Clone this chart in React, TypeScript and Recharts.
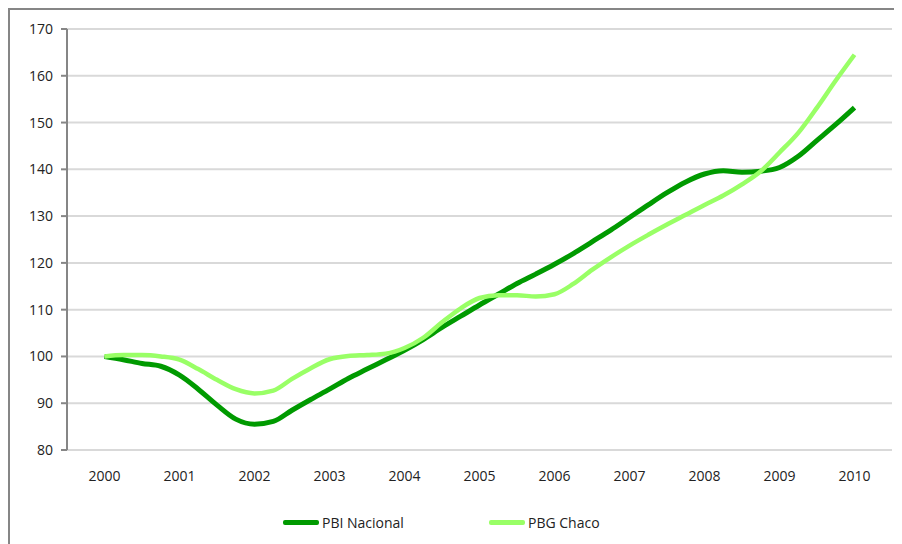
import { LineChart, Line, XAxis, YAxis, CartesianGrid, Legend } from "recharts";

// fractional years: one point per quarter, 2000 to 2010
const period = [
  2000, 2000.25, 2000.5, 2000.75, 2001, 2001.25, 2001.5, 2001.75,
  2002, 2002.25, 2002.5, 2002.75, 2003, 2003.25, 2003.5, 2003.75,
  2004, 2004.25, 2004.5, 2004.75, 2005, 2005.25, 2005.5, 2005.75,
  2006, 2006.25, 2006.5, 2006.75, 2007, 2007.25, 2007.5, 2007.75,
  2008, 2008.25, 2008.5, 2008.75, 2009, 2009.25, 2009.5, 2009.75,
  2010,
];

const pbiNacional = [
  100, 99.3, 98.5, 97.9, 96.0, 93.0, 89.6, 86.6,
  85.5, 86.1, 88.5, 90.8, 93.0, 95.3, 97.3, 99.3,
  101.3, 103.6, 106.2, 108.6, 111.0, 113.3, 115.6, 117.6,
  119.7, 122.0, 124.5, 127.0, 129.7, 132.4, 135.0, 137.3,
  139.0, 139.7, 139.4, 139.6, 140.4, 142.8, 146.2, 149.6,
  153.2,
];

const pbgChaco = [
  100, 100.3, 100.3, 100.0, 99.3, 97.3, 95.0, 93.0,
  92.1, 92.7, 95.2, 97.5, 99.4, 100.1, 100.3, 100.6,
  101.8, 104.0, 107.3, 110.3, 112.5, 113.1, 113.1, 112.8,
  113.3, 115.5, 118.5, 121.2, 123.7, 126.0, 128.2, 130.3,
  132.4, 134.4, 136.8, 139.6, 143.6, 147.8, 153.2, 159.0,
  164.5,
];

const years = [2000, 2001, 2002, 2003, 2004, 2005, 2006, 2007, 2008, 2009, 2010];
const yTicks = [80, 90, 100, 110, 120, 130, 140, 150, 160, 170];
const seriesNames = ["PBI Nacional", "PBG Chaco"];

const DARK = "#009a00";
const LIGHT = "#99ff66";
const AXIS = "#868686";
const FONT = "'Open Sans', 'Noto Sans', sans-serif";

const data = period.map((p, i) => ({ period: p, nacional: pbiNacional[i], chaco: pbgChaco[i] }));

// tick marks sit between the year labels
const markTicks = [...years.map((y) => y - 0.5), years[years.length - 1] + 0.5];

function renderLegend(props: any) {
  const items = [...(props.payload ?? [])].sort(
    (a: any, b: any) => seriesNames.indexOf(a.value) - seriesNames.indexOf(b.value)
  );
  return (
    <div style={{ display: "flex", height: 24, alignItems: "center", fontFamily: FONT, fontSize: 14, color: "#222" }}>
      {items.map((it: any, i: number) => (
        <div key={it.value} style={{ display: "flex", alignItems: "center", width: i === 0 ? 206 : "auto" }}>
          <div style={{ width: 36, height: 5, background: it.color, borderRadius: 2, marginRight: 3 }} />
          <span>{it.value}</span>
        </div>
      ))}
    </div>
  );
}

export default function App() {
  return (
    <div
      style={{
        width: 894,
        height: 536,
        boxSizing: "border-box",
        borderTop: `2px solid ${AXIS}`,
        borderLeft: `2px solid ${AXIS}`,
        fontFamily: FONT,
        overflow: "hidden",
      }}
    >
      <LineChart width={892} height={534} data={data} margin={{ top: 19, right: 10, bottom: 40, left: 0 }}>
        <CartesianGrid vertical={false} stroke="#d9d9d9" strokeWidth={2} xAxisId="marks" />
        <XAxis
          xAxisId="marks"
          type="number"
          dataKey="period"
          domain={[1999.5, 2010.5]}
          ticks={markTicks}
          allowDataOverflow
          tick={false}
          tickSize={5}
          height={0}
          axisLine={{ stroke: AXIS, strokeWidth: 2 }}
          tickLine={{ stroke: AXIS, strokeWidth: 2 }}
        />
        <XAxis
          xAxisId="labels"
          type="number"
          dataKey="period"
          domain={[1999.5, 2010.5]}
          ticks={years}
          interval={0}
          allowDataOverflow
          axisLine={false}
          tickLine={false}
          tickSize={0}
          tickMargin={21}
          height={30}
          tick={{ fill: "#222", fontSize: 14, fontFamily: FONT }}
        />
        <YAxis
          type="number"
          domain={[80, 170]}
          ticks={yTicks}
          interval={0}
          width={57}
          tickSize={6}
          tickMargin={8}
          axisLine={{ stroke: AXIS, strokeWidth: 2 }}
          tickLine={{ stroke: AXIS, strokeWidth: 2 }}
          tick={{ fill: "#222", fontSize: 14, fontFamily: FONT }}
        />
        <Line
          xAxisId="marks"
          type="monotone"
          dataKey="nacional"
          name="PBI Nacional"
          stroke={DARK}
          strokeWidth={5}
          dot={false}
          isAnimationActive={false}
        />
        <Line
          xAxisId="marks"
          type="monotone"
          dataKey="chaco"
          name="PBG Chaco"
          stroke={LIGHT}
          strokeWidth={4.5}
          dot={false}
          isAnimationActive={false}
        />
        <Legend
          verticalAlign="bottom"
          content={renderLegend}
          wrapperStyle={{ top: 500, left: 273, bottom: "auto", width: "auto" }}
        />
      </LineChart>
    </div>
  );
}
